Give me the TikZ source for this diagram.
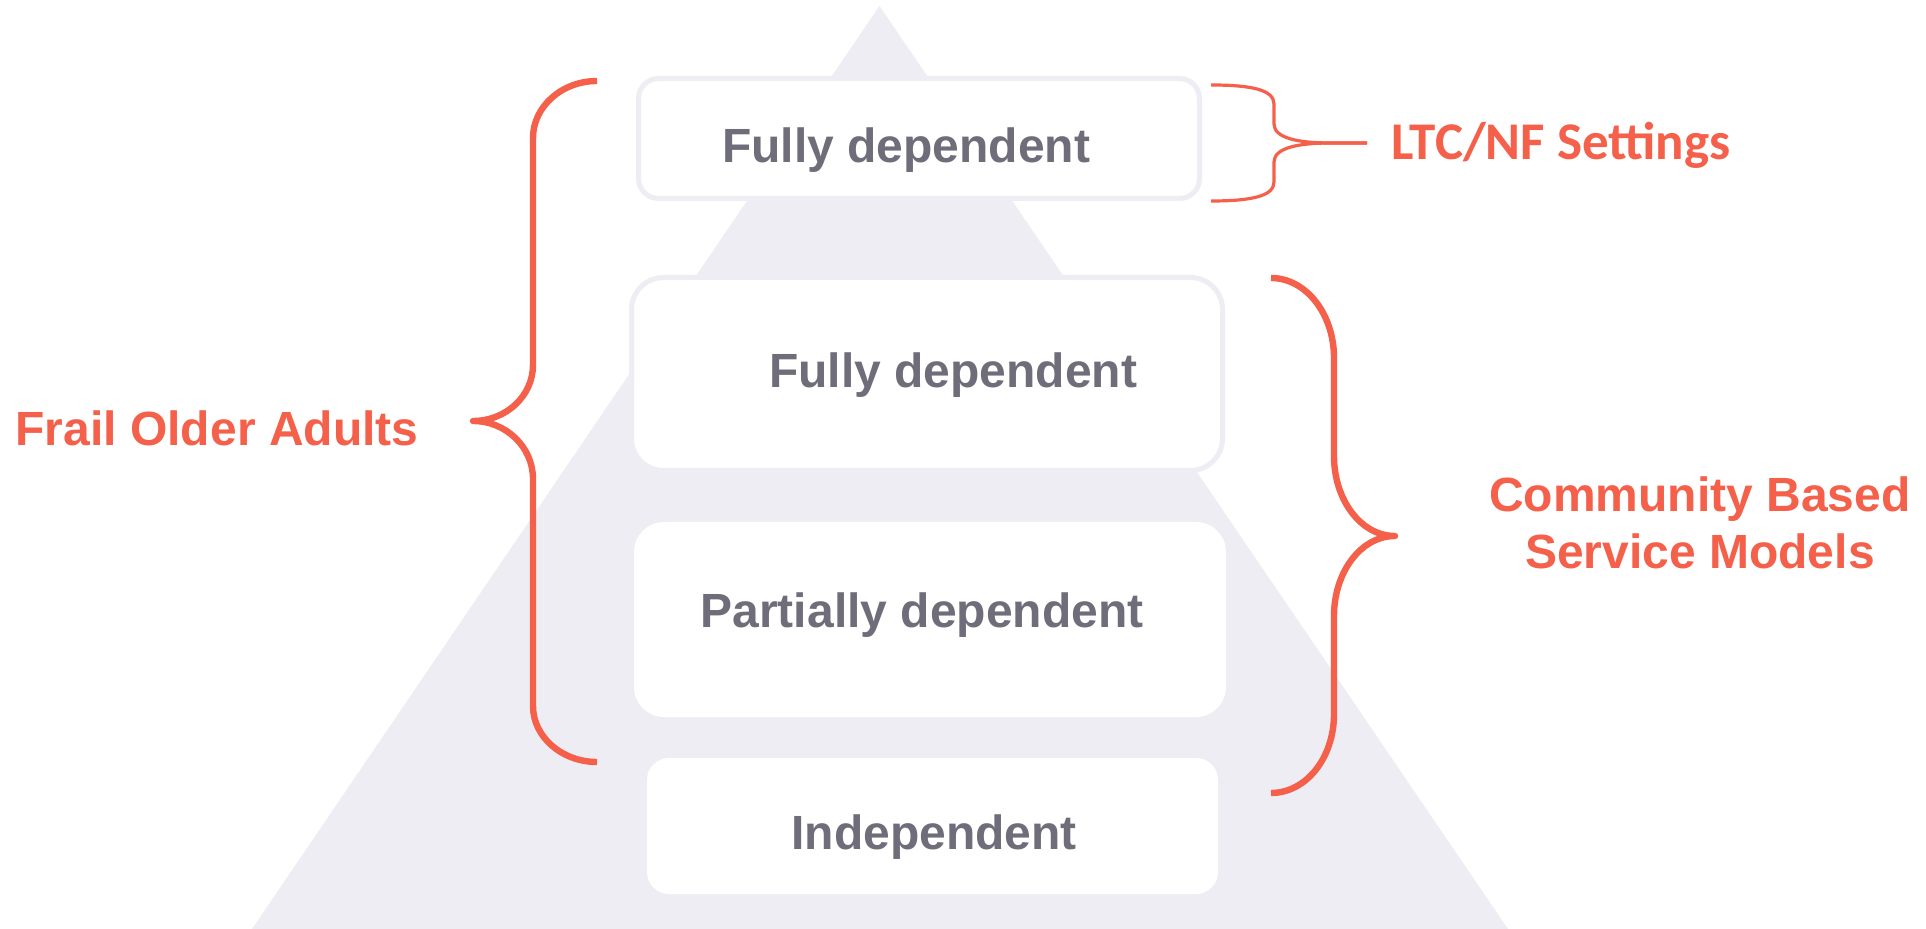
\documentclass[tikz,border=0pt]{standalone}
\usepackage{fontspec}
\setmainfont{Liberation Sans}
\newfontfamily\calfont{Carlito}
\definecolor{accent}{HTML}{F4604A}
\definecolor{txtgray}{HTML}{6E6D79}
\definecolor{pyr}{HTML}{EDEDF3}
\begin{document}
\begin{tikzpicture}[x=0.5pt,y=-0.5pt,
 box/.style={rectangle, rounded corners=#1, fill=white, draw=pyr, line width=2.5pt, inner sep=0pt, outer sep=0pt},
 lvl/.style={anchor=base, text=txtgray, font=\fontsize{24}{28}\selectfont\bfseries, inner sep=0pt},
 lab/.style={text=accent, font=\fontsize{24}{28.5}\selectfont\bfseries, inner sep=0pt, align=center},
 brace/.style={draw=accent, line width=3.2pt, line cap=butt, line join=round},
 thinbrace/.style={draw=accent, line width=1.6pt, line cap=butt, line join=round},
]
\useasboundingbox (0,0) rectangle (1926,929);
\fill[white] (0,0) rectangle (1926,929);
% pyramid
\coordinate (apex) at (879.5,6);
\coordinate (bl) at (252,929);
\coordinate (br) at (1508,929);
\fill[pyr] (apex) -- (bl) -- (br) -- cycle;
% boxes
\node[box=10pt, minimum width=280.5pt, minimum height=60pt] (b1) at (919,138.5) {};
\node[box=16pt, minimum width=295.5pt, minimum height=96.5pt] (b2) at (927,374) {};
\node[box=15pt, draw=none, minimum width=296pt, minimum height=97.5pt] (b3) at (930,619.5) {};
\node[box=11pt, draw=none, minimum width=285.5pt, minimum height=68pt] (b4) at (932.5,826) {};
% level texts
\node[lvl] (t1) at (906,163) {Fully dependent};
\node[lvl] (t2) at (953,388) {Fully dependent};
\node[lvl] (t3) at (922,628) {Partially dependent};
\node[lvl] (t4) at (934,849) {Independent};
% labels
\node[lab, anchor=base] (frail) at (217,446) {Frail Older Adults};
\node[lab, anchor=base, font=\calfont\fontsize{26.5}{30}\selectfont\bfseries] (ltc) at (1561,160) {LTC/NF Settings};
\node[lab] (cbsm) at (1700,523) {Community Based\\Service Models};
% left brace
\draw[brace] (597,81) .. controls (562,81) and (533,106.5) .. (533,138)
  -- (533,365) .. controls (533,396) and (506,421) .. (473,421)
  .. controls (506,421) and (533,447) .. (533,479)
  -- (533,706) .. controls (533,737) and (562,762) .. (597,762);
% right brace
\draw[brace] (1271,278) .. controls (1306,278) and (1334,314) .. (1334,358)
  -- (1334,456) .. controls (1334,500) and (1361,536) .. (1395,536)
  .. controls (1361,536) and (1334,572) .. (1334,616)
  -- (1334,714) .. controls (1334,758) and (1306,793) .. (1271,793);
% small brace
\draw[thinbrace] (1211,85) .. controls (1252,85) and (1274,90) .. (1274,104)
  -- (1274,124) .. controls (1274,138) and (1298,143) .. (1330,143) -- (1367,143);
\draw[thinbrace] (1367,143) -- (1330,143) .. controls (1298,143) and (1274,148) .. (1274,162)
  -- (1274,182) .. controls (1274,196) and (1252,201) .. (1211,201);
\end{tikzpicture}
\end{document}
